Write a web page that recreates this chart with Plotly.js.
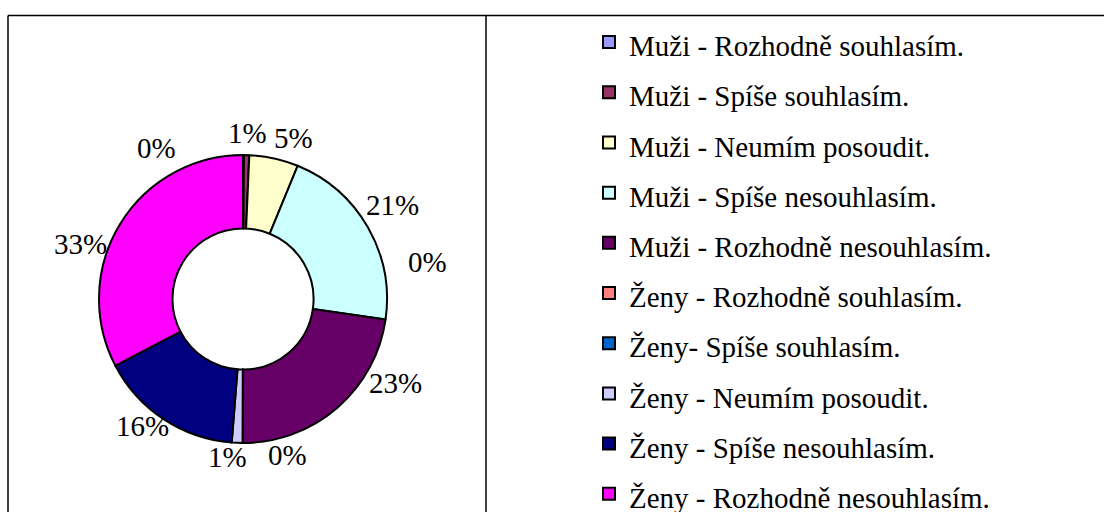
<!DOCTYPE html>
<html><head><meta charset="utf-8">
<script src="https://cdn.plot.ly/plotly-3.0.1.min.js"></script>
<style>html,body{margin:0;padding:0;background:#fff}#chart{width:1104px;height:512px}</style>
</head><body><div id="chart"></div>
<script>
// ---- data ----
const categories = ["Muži - Rozhodně souhlasím.", "Muži - Spíše souhlasím.", "Muži - Neumím posoudit.", "Muži - Spíše nesouhlasím.", "Muži - Rozhodně nesouhlasím.", "Ženy - Rozhodně souhlasím.", "Ženy- Spíše souhlasím.", "Ženy - Neumím posoudit.", "Ženy - Spíše nesouhlasím.", "Ženy - Rozhodně nesouhlasím."];
const shares = [0.1, 0.6, 5.5, 21.1, 22.8, 0, 0, 1.2, 16.1, 32.7];
const colors = ["#9999FF", "#993366", "#FFFFCC", "#CCFFFF", "#660066", "#FF8080", "#0066CC", "#CCCCFF", "#000080", "#FF00FF"];

// ---- layout settings ----
const W = 1104, H = 512;
const cx = 243, cy = 299, R = 144;
const FONT = "Liberation Serif, Times New Roman, serif";
// label placement tweaks (degrees away from slice middle, distance from centre in px)
const labelAngleShift = [-30, 0, 5, -2.4, -20.4, -16.2, -101.5, 3.3, 5, -12.5];
const labelRadius = [174, 166, 169, 177, 174, 162, 188, 159, 162, 172];

const total = shares.reduce((a, b) => a + b, 0);
const annotations = [];
let cum = 0;
shares.forEach((v, i) => {
  const mid = (cum + v / 2) / total * 360;
  cum += v;
  const th = (mid + labelAngleShift[i]) * Math.PI / 180;
  const r = labelRadius[i];
  const px = cx + r * Math.sin(th), py = cy - r * Math.cos(th);
  annotations.push({
    xref: 'paper', yref: 'paper', x: px / W, y: 1 - py / H,
    xanchor: 'center', yanchor: 'middle', showarrow: false,
    text: Math.round(v / total * 100) + '%',
    font: {family: FONT, size: 29, color: '#000'}
  });
});

const trace = {
  type: 'pie',
  labels: categories.map(c => '<span style="font-size:29px">' + c + '</span>'),
  values: shares,
  marker: {colors: colors, line: {color: '#000', width: 2}},
  sort: false,
  direction: 'clockwise',
  rotation: 0,
  hole: 0.49,
  textinfo: 'none',
  hoverinfo: 'skip',
  domain: {x: [(cx - R) / W, (cx + R) / W], y: [(H - cy - R) / H, (H - cy + R) / H]},
  showlegend: true
};

const layout = {
  width: W, height: H,
  margin: {l: 0, r: 0, t: 0, b: 0, pad: 0, autoexpand: false},
  paper_bgcolor: '#fff',
  font: {family: FONT, color: '#000'},
  showlegend: true,
  legend: {
    x: 589 / W, y: 1 - 12 / H, xanchor: 'left', yanchor: 'top',
    bgcolor: 'rgba(0,0,0,0)', borderwidth: 0,
    font: {family: FONT, size: 36.3, color: '#000'},
    traceorder: 'normal',
    maxheight: 2000
  },
  annotations: annotations,
  shapes: [
    {type: 'line', xref: 'paper', yref: 'paper', x0: 8 / W, x1: 1.01, y0: 1 - 15.5 / H, y1: 1 - 15.5 / H, line: {color: '#000', width: 1.5}},
    {type: 'line', xref: 'paper', yref: 'paper', x0: 8 / W, x1: 8 / W, y0: 1 - 15.5 / H, y1: -0.01, line: {color: '#000', width: 1.5}},
    {type: 'line', xref: 'paper', yref: 'paper', x0: 486 / W, x1: 486 / W, y0: 1 - 15.5 / H, y1: -0.01, line: {color: '#000', width: 1.5}}
  ]
};

Plotly.newPlot('chart', [trace], layout, {staticPlot: true});
</script></body></html>
